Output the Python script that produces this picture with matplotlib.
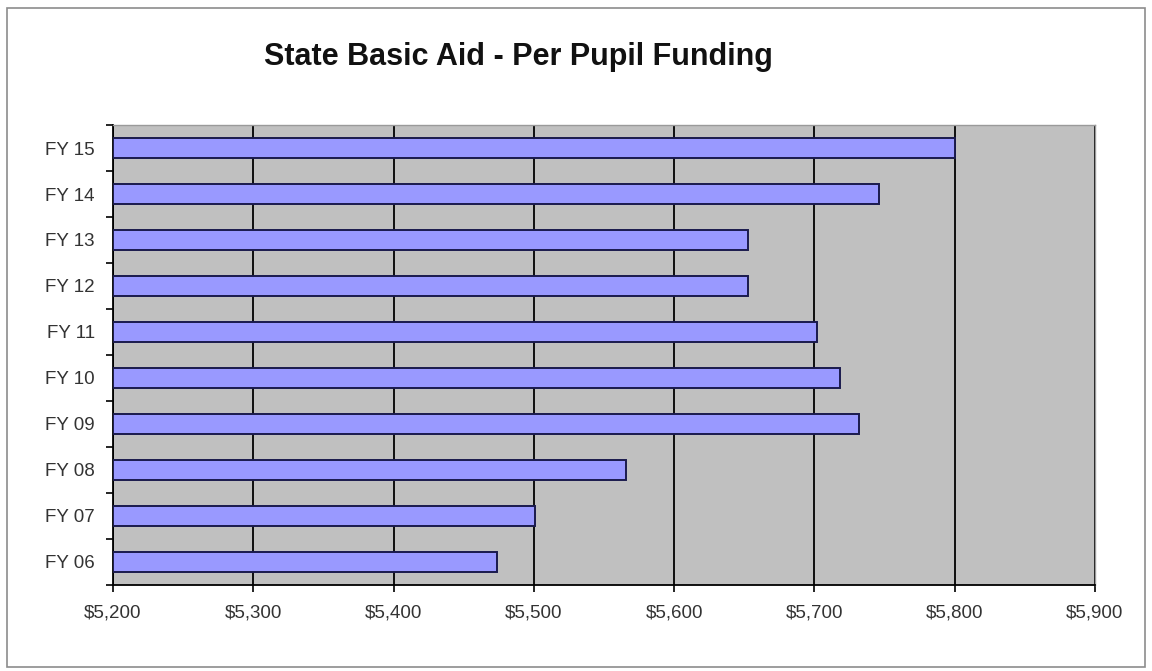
import matplotlib.pyplot as plt
import numpy as np
from matplotlib.patches import Rectangle
from matplotlib.ticker import FuncFormatter

plt.rcParams["font.family"] = ["Liberation Sans", "DejaVu Sans"]

# data, bottom to top as drawn
years = ["FY 06", "FY 07", "FY 08", "FY 09", "FY 10", "FY 11", "FY 12", "FY 13", "FY 14", "FY 15"]
funding = [5474, 5501, 5566, 5732, 5718, 5702, 5653, 5653, 5746, 5800]

x_min, x_max = 5200, 5900
x_ticks = np.arange(5200, 5901, 100)

fig = plt.figure(figsize=(11.52, 6.71), dpi=100)
fig.patch.set_facecolor("white")
fig.add_artist(Rectangle((0.006, 0.006), 0.988, 0.982, transform=fig.transFigure,
                         fill=False, edgecolor="#8c8c8c", linewidth=1.2))

ax = fig.add_axes([0.0981, 0.1282, 0.8524, 0.6855])
ax.set_facecolor("#c0c0c0")

y = np.arange(len(years))
ax.barh(y, np.array(funding) - x_min, left=x_min, height=0.45,
        color="#9999ff", edgecolor="#1a1a4d", linewidth=1.4, zorder=3)

ax.set_xlim(x_min, x_max)
ax.set_ylim(-0.5, len(years) - 0.5)
ax.set_xticks(x_ticks)
ax.xaxis.set_major_formatter(FuncFormatter(lambda v, _: f"${v:,.0f}"))
ax.grid(axis="x", color="black", linewidth=1.3, zorder=1)

ax.set_yticks(y)
ax.set_yticklabels(years)
ax.set_yticks(np.arange(-0.5, len(years), 1), minor=True)
ax.tick_params(axis="y", which="major", length=0, pad=13, labelsize=13.5, labelcolor="#333333")
ax.tick_params(axis="y", which="minor", length=5, width=1.2, color="black")
ax.tick_params(axis="x", length=5, width=1.2, pad=9, labelsize=13.5, labelcolor="#333333")

for side in ["top", "right"]:
    ax.spines[side].set_color("#9a9a9a")
    ax.spines[side].set_linewidth(1)
for side in ["left", "bottom"]:
    ax.spines[side].set_color("black")
    ax.spines[side].set_linewidth(1.3)

fig.text(0.229, 0.915, "State Basic Aid - Per Pupil Funding", fontsize=22,
         fontweight="bold", ha="left", va="center", color="#111111")

fig.savefig("out.png", dpi=100)
